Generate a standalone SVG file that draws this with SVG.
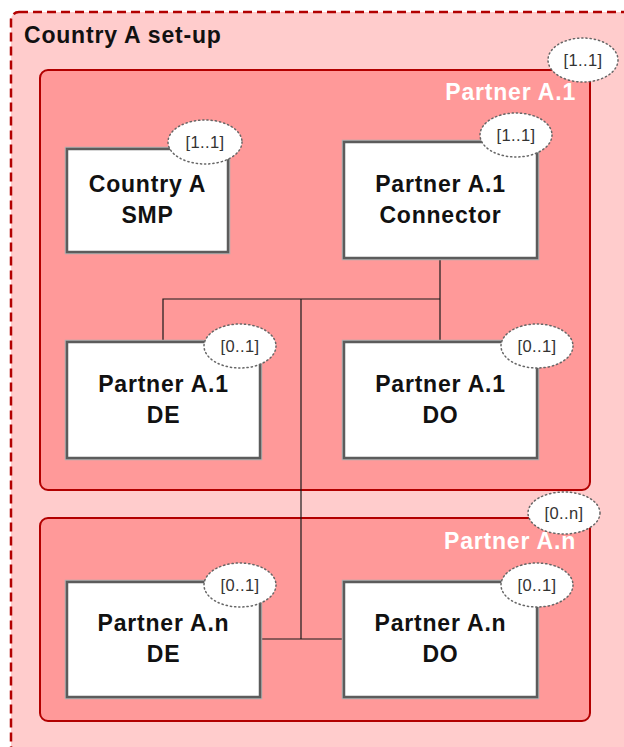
<svg xmlns="http://www.w3.org/2000/svg" width="624" height="747" viewBox="0 0 624 747">
<style>
.outer{fill:#FFCCCC;stroke:#B20000;stroke-width:2.5;stroke-dasharray:9 5}
.cont{fill:#FF9999;stroke:#B20000;stroke-width:2}
.box{fill:#FFFFFF;stroke:#5C5C5C;stroke-width:2.5}
.boxsh{fill:none;stroke:#B0B0B0;stroke-width:4.5}
.mult{fill:#FFFFFF;stroke:#666666;stroke-width:1.5;stroke-dasharray:1.2 3;stroke-linecap:round}
.mt{font-family:"Liberation Sans",Arial,sans-serif;font-size:16.5px;letter-spacing:0.4px;fill:#333333;text-anchor:middle}
.bt{font-family:"Liberation Sans",Arial,sans-serif;font-size:23px;letter-spacing:0.8px;font-weight:bold;fill:#111111;text-anchor:middle}
.ct{font-family:"Liberation Sans",Arial,sans-serif;font-size:23px;letter-spacing:0.8px;font-weight:bold;fill:#FFFFFF;text-anchor:end}
.title{font-family:"Liberation Sans",Arial,sans-serif;font-size:23px;letter-spacing:0.8px;font-weight:bold;fill:#111111}
.edge{fill:none;stroke:#1A1A1A;stroke-width:1.2}
</style>
<g id="country-a-setup">
<rect class="outer" x="11" y="12" width="640" height="742" rx="8"/>
<text class="title" x="24" y="43">Country A set-up</text>
</g>
<g id="partner-a1">
<rect class="cont" x="40" y="70" width="550" height="420" rx="8"/>
<text class="ct" x="576" y="100">Partner A.1</text>
<ellipse class="mult" cx="583" cy="60" rx="35" ry="22"/>
<text class="mt" x="583" y="66">[1..1]</text>
</g>
<g id="partner-an">
<rect class="cont" x="40" y="518" width="550" height="203" rx="8"/>
<text class="ct" x="576" y="549">Partner A.n</text>
<ellipse class="mult" cx="564" cy="513" rx="36" ry="21"/>
<text class="mt" x="564" y="519">[0..n]</text>
</g>
<g id="connectors">
<path class="edge" d="M440 258 V342"/>
<path class="edge" d="M163 342 V299 H440"/>
<path class="edge" d="M301 299 V639"/>
<path class="edge" d="M261 639 H344"/>
</g>
<g id="country-a-smp">
<rect class="boxsh" x="67" y="149" width="161" height="103"/>
<rect class="box" x="67" y="149" width="161" height="103"/>
<text class="bt" x="147.5" y="192">Country A</text>
<text class="bt" x="147.5" y="223">SMP</text>
<ellipse class="mult" cx="205" cy="142" rx="37" ry="22"/>
<text class="mt" x="205" y="148">[1..1]</text>
</g>
<g id="partner-a1-connector">
<rect class="boxsh" x="344" y="142" width="193" height="116"/>
<rect class="box" x="344" y="142" width="193" height="116"/>
<text class="bt" x="440.5" y="192">Partner A.1</text>
<text class="bt" x="440.5" y="223">Connector</text>
<ellipse class="mult" cx="516" cy="135" rx="36" ry="22"/>
<text class="mt" x="516" y="141">[1..1]</text>
</g>
<g id="partner-a1-de">
<rect class="boxsh" x="67" y="342" width="193" height="116"/>
<rect class="box" x="67" y="342" width="193" height="116"/>
<text class="bt" x="163.5" y="392">Partner A.1</text>
<text class="bt" x="163.5" y="423">DE</text>
<ellipse class="mult" cx="240" cy="346" rx="36" ry="22"/>
<text class="mt" x="240" y="352">[0..1]</text>
</g>
<g id="partner-a1-do">
<rect class="boxsh" x="344" y="342" width="193" height="116"/>
<rect class="box" x="344" y="342" width="193" height="116"/>
<text class="bt" x="440.5" y="392">Partner A.1</text>
<text class="bt" x="440.5" y="423">DO</text>
<ellipse class="mult" cx="537" cy="346" rx="36" ry="22"/>
<text class="mt" x="537" y="352">[0..1]</text>
</g>
<g id="partner-an-de">
<rect class="boxsh" x="67" y="582" width="193" height="115"/>
<rect class="box" x="67" y="582" width="193" height="115"/>
<text class="bt" x="163.5" y="631">Partner A.n</text>
<text class="bt" x="163.5" y="662">DE</text>
<ellipse class="mult" cx="240" cy="585" rx="36" ry="22"/>
<text class="mt" x="240" y="591">[0..1]</text>
</g>
<g id="partner-an-do">
<rect class="boxsh" x="344" y="582" width="193" height="115"/>
<rect class="box" x="344" y="582" width="193" height="115"/>
<text class="bt" x="440.5" y="631">Partner A.n</text>
<text class="bt" x="440.5" y="662">DO</text>
<ellipse class="mult" cx="537" cy="585" rx="36" ry="22"/>
<text class="mt" x="537" y="591">[0..1]</text>
</g>
</svg>
